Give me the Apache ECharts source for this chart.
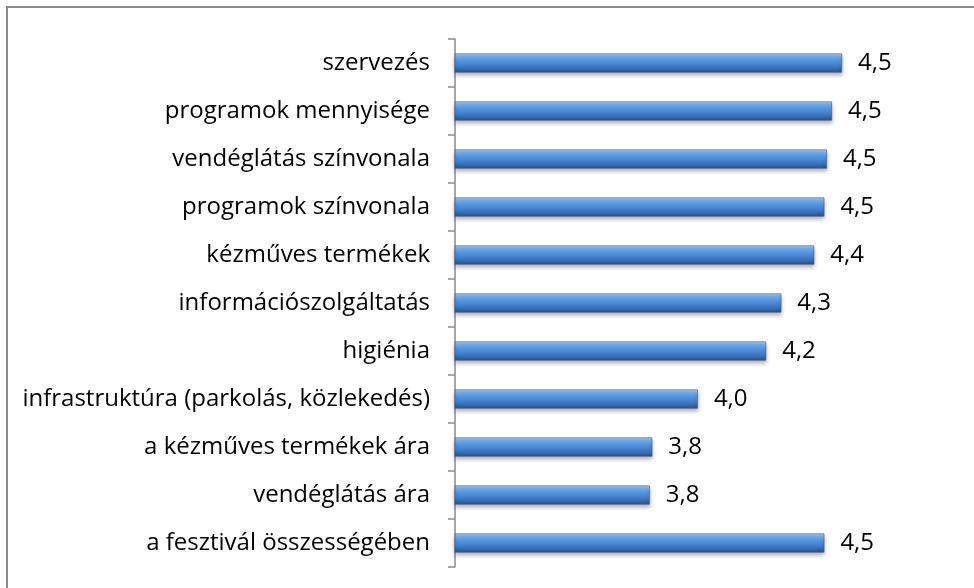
<!DOCTYPE html>
<html>
<head>
<meta charset="utf-8">
<script src="https://cdn.jsdelivr.net/npm/echarts@6/dist/echarts.min.js"></script>
<style>
  html, body { margin: 0; padding: 0; background: #fff; }
  #main { width: 974px; height: 588px; }
</style>
</head>
<body>
<div id="main"></div>
<script>
// kategóriák (felülről lefelé)
var categories = [
  'szervezés',
  'programok mennyisége',
  'vendéglátás színvonala',
  'programok színvonala',
  'kézműves termékek',
  'információszolgáltatás',
  'higiénia',
  'infrastruktúra (parkolás, közlekedés)',
  'a kézműves termékek ára',
  'vendéglátás ára',
  'a fesztivál összességében'
];
// átlagpontszámok
var values = [4.53, 4.49, 4.47, 4.46, 4.42, 4.29, 4.23, 3.96, 3.78, 3.77, 4.46];

var myChart = echarts.init(document.getElementById('main'));

var barColor = new echarts.graphic.LinearGradient(0, 0, 0, 1, [
  { offset: 0, color: '#a9cdf3' },
  { offset: 0.18, color: '#70abea' },
  { offset: 0.45, color: '#4d8fdc' },
  { offset: 0.75, color: '#3c73bd' },
  { offset: 1, color: '#284e85' }
]);

var option = {
  animation: false,
  backgroundColor: '#fff',
  textStyle: { fontFamily: '"Open Sans", "Noto Sans", sans-serif' },
  graphic: [{
    type: 'rect',
    shape: { x: 7, y: 7, width: 1100, height: 1100 },
    style: { fill: 'none', stroke: '#8a8a8a', lineWidth: 2 },
    silent: true
  }],
  grid: { left: 455, top: 39, width: 506, height: 528 },
  xAxis: {
    type: 'value',
    min: 3,
    max: 5,
    show: false
  },
  yAxis: {
    type: 'category',
    inverse: true,
    data: categories,
    axisLine: { show: true, lineStyle: { color: '#8a8a8a', width: 1.5 } },
    axisTick: { show: true, length: 7, lineStyle: { color: '#8a8a8a', width: 1.5 } },
    axisLabel: { margin: 25, fontSize: 24, color: '#000' },
    splitLine: { show: false }
  },
  series: [{
    type: 'bar',
    data: values,
    barWidth: 19,
    itemStyle: {
      color: barColor,
      borderColor: '#2f5a91',
      borderWidth: 0.6,
      shadowColor: 'rgba(0,0,0,0.3)',
      shadowBlur: 4,
      shadowOffsetY: 3
    },
    label: {
      show: true,
      position: 'right',
      distance: 16,
      fontSize: 24,
      color: '#000',
      formatter: function (p) { return p.value.toFixed(1).replace('.', ','); }
    }
  }]
};
myChart.setOption(option);
</script>
</body>
</html>
